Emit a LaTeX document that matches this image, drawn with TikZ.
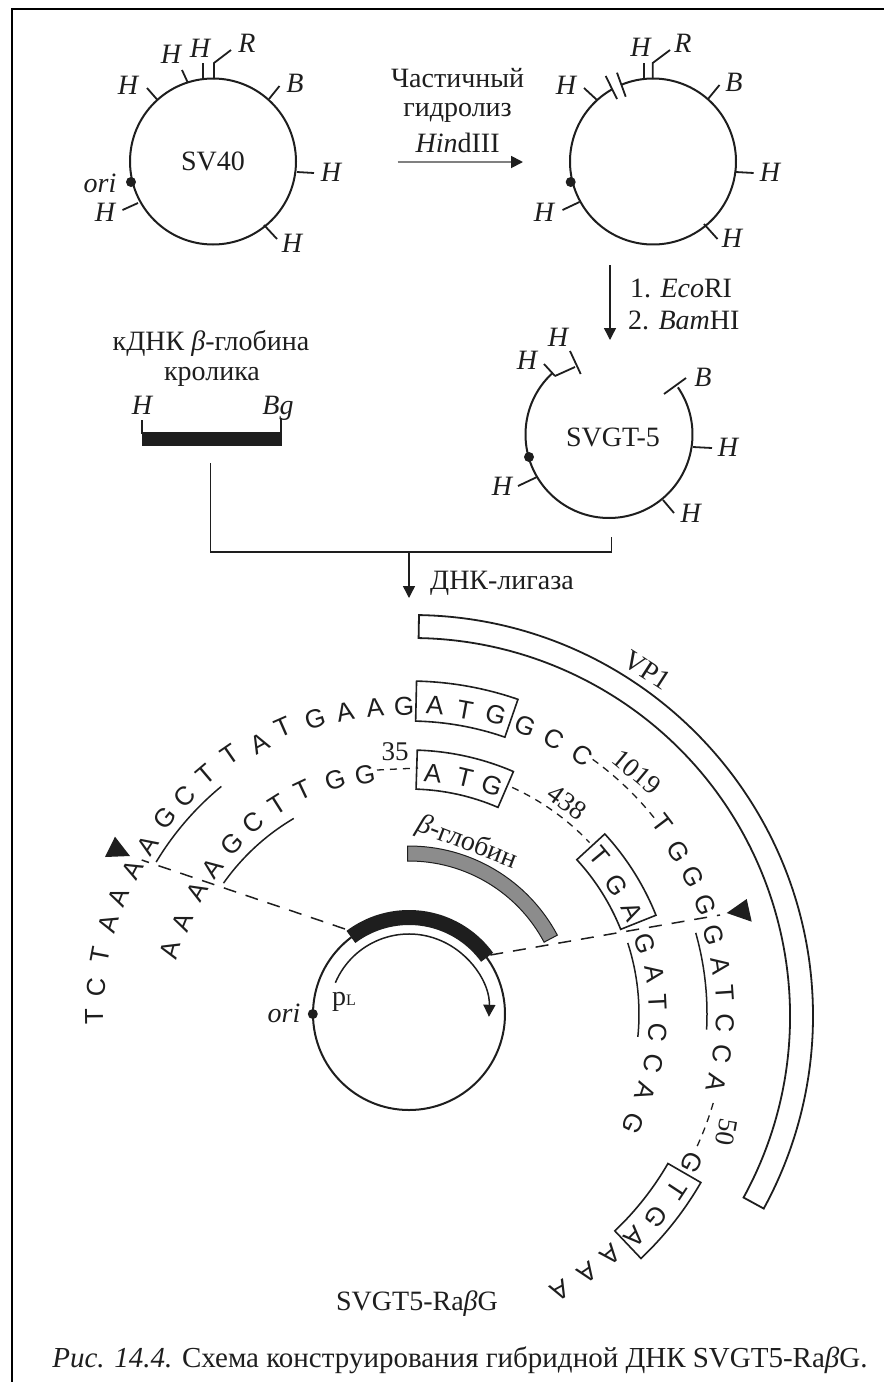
\documentclass[tikz,border=0pt]{standalone}
\usepackage{fontspec}
\setmainfont{Liberation Serif}
\newfontfamily\seqfont{Liberation Sans}
\usetikzlibrary{arrows.meta}
\definecolor{ink}{HTML}{1E1E1E}
\definecolor{globin}{HTML}{8C8C8C}
\tikzset{
  txt/.style={font=\fontsize{28}{30}\selectfont, inner sep=0pt, text=ink},
  ital/.style={font=\fontsize{28}{30}\selectfont\itshape, inner sep=0pt, text=ink},
  num/.style={font=\fontsize{27}{29}\selectfont, inner sep=0pt, text=ink},
  seqletter/.style={font=\fontsize{26}{28}\selectfont\seqfont, inner sep=0pt, text=ink},
  ring/.style={draw=ink, line width=2pt, circle, inner sep=0pt},
  wire/.style={draw=ink, line width=1.8pt},
  thinwire/.style={draw=ink, line width=1.5pt},
  dot/.style={fill=ink, circle, inner sep=0pt, minimum size=10pt},
  flow/.style={draw=ink, line width=1.4pt, -{Triangle[length=12pt,width=12pt]}},
  greyflow/.style={draw=gray, line width=1.8pt, -{Triangle[length=12pt,width=12pt,color=ink,fill=ink]}},
  longdash/.style={draw=ink, line width=1.5pt, dash pattern=on 13pt off 10pt},
  shortdash/.style={draw=ink, line width=1.3pt, dash pattern=on 7pt off 6pt},
  seqbox/.style={draw=ink, line width=1.6pt},
  tri/.style={fill=ink, draw=none}
}
\newcommand{\polarbox}[4]{% r1 r2 a1 a2
  \draw[seqbox] (#3:#1pt) arc[start angle=#3,end angle=#4,radius=#1pt] -- (#4:#2pt) arc[start angle=#4,end angle=#3,radius=#2pt] -- cycle;}
\newcommand{\polararc}[4][thinwire]{% style r a1 a2
  \draw[#1] (#3:#2pt) arc[start angle=#3,end angle=#4,radius=#2pt];}
\begin{document}
\begin{tikzpicture}[x=1pt,y=-1pt]
\useasboundingbox (0,0) rectangle (884,1382);
\fill[white] (0,0) rectangle (884,1382);
% frame
\draw[black, line width=2.6pt] (12,1382) -- (12,9) -- (884,9);

% ---- SV40
\node[ring, minimum size=166pt, font=\fontsize{28}{30}\selectfont, text=ink] (sv40) at (213,161.5) {SV40};
\foreach \a/\b/\c/\d in {157.5/100/147/88, 188/83/182/70, 203/79/203/63, 269/99/279.5/86, 297/172/314/173, 264/225/277/239, 138/203/122.5/210}
  \draw[wire] (\a,\b) -- (\c,\d);
\draw[wire] (214,79) -- (214,63) -- (231,50);
\node[dot] (oriA) at (131,182) {};
\foreach \n/\x/\y/\t in {a1/128/85/H, a2/171/54/H, a3/200/48/H, a4/247/43/R, a5/295/83/B, a6/331/172/H, a7/292/243/H, a8/105/212/H}
  \node[ital] (\n) at (\x,\y) {\t};
\node[ital] (oriAl) at (100,183) {ori};

% ---- hydrolysis arrow
\coordinate (hydS) at (397.5,162);
\coordinate (hydE) at (523,162);
\draw[greyflow] (hydS) -- (hydE);
\node[txt] (t1) at (457.6,78) {Частичный};
\node[txt] (t2) at (457.6,113) {гидролиз};
\node[txt] (t3) at (457.6,143) {{\itshape Hin}dIII};

% ---- second circle
\coordinate (c2) at (653,161.5);
\draw[wire, line width=2pt] ([shift={(119.7:83pt)}]c2) arc[start angle=119.7,end angle=472.5,radius=83pt];
\foreach \a/\b/\c/\d in {597/100/584/88, 605.7/76/617/99, 617/72.7/625.7/96.7, 644/79/644/63, 708/99/719.5/85, 735.6/172/753.7/173, 704/224/717.5/239, 579.5/202/562.5/210}
  \draw[wire] (\a,\b) -- (\c,\d);
\draw[wire] (652.7,79) -- (652.7,63) -- (670,50);
\node[dot] (oriB) at (570.7,182) {};
\foreach \n/\x/\y/\t in {b1/566/85/H, b2/640.5/47/H, b3/683/43/R, b4/734/82/B, b5/770/172/H, b6/732/238/H, b7/544/212/H}
  \node[ital] (\n) at (\x,\y) {\t};

% ---- restriction arrow
\coordinate (resS) at (610,265);
\coordinate (resE) at (610,340);
\draw[flow] (resS) -- (resE);
\node[txt, anchor=west] (r1) at (630,288) {1. {\itshape Eco}RI};
\node[txt, anchor=west] (r2) at (628,320) {2. {\itshape Bam}HI};

% ---- SVGT-5
\coordinate (c3) at (609,434.5);
\draw[wire, line width=2pt] ([shift={(132.7:83.5pt)}]c3) arc[start angle=132.7,end angle=394.4,radius=83.5pt];
\draw[wire] (555,376) -- (575,367);
\foreach \a/\b/\c/\d in {570/351/580.7/374, 555/376/544/364, 664/394/686/378, 693/447/712/448, 663/500/674/513, 537/477/518/486}
  \draw[wire] (\a,\b) -- (\c,\d);
\node[dot] (oriC) at (529,457) {};
\foreach \n/\x/\y/\t in {c1/527/360/H, c2a/558/337/H, c3a/703/377/B, c4/728/447/H, c5/690.7/513/H, c6/502/486/H}
  \node[ital] (\n) at (\x,\y) {\t};
\node[txt] (svgt) at (613,437) {SVGT-5};

% ---- cDNA
\node[txt] (k1) at (211,343) {кДНК {\itshape β}-глобина};
\node[txt] (k2) at (212,377) {кролика};
\node[ital] (k3) at (142,405) {H};
\node[ital] (k4) at (278,408) {Bg};
\draw[wire] (142,420) -- (142,434);
\draw[wire] (281,418) -- (281,434);
\node[fill=ink, minimum width=140pt, minimum height=14pt, inner sep=0pt] (bar) at (212,439) {};

% ---- ligase connector
\coordinate (lA) at (210.7,463);
\coordinate (lB) at (210.7,552);
\coordinate (lC) at (611.7,552);
\coordinate (lD) at (611.7,537);
\coordinate (lM) at (409,552);
\coordinate (lE) at (409,598);
\draw[thinwire] (lA) -- (lB) -- (lC) -- (lD);
\draw[flow] (lM) -- (lE);
\node[txt] (lig) at (502,583) {ДНК-лигаза};

% ---- VP1
\begin{scope}[shift={(412,1016)}]
  \draw[draw=ink, line width=1.8pt] (89:401pt) arc[start angle=89,end angle=-28.7,radius=401pt] -- (-28.7:378pt) arc[start angle=-28.7,end angle=89,radius=378pt] -- cycle;
\end{scope}
\node[txt, rotate=-33] (vp) at (647,670) {VP1};

% ---- plasmid
\begin{scope}[shift={(409,1014)}]
  \draw[draw=ink, line width=2pt] (0,0) circle[radius=96pt];
  \draw[draw=ink, line width=15pt] (127:96.5pt) arc[start angle=127,end angle=36,radius=96.5pt];
  \draw[thinwire, -{Triangle[length=12pt,width=12pt]}] (157:80pt) arc[start angle=157,end angle=-2,radius=80pt];
  \filldraw[fill=globin, draw=ink, line width=1pt] (90.5:168pt) arc[start angle=90.5,end angle=28,radius=168pt] -- (28:153pt) arc[start angle=28,end angle=90.5,radius=153pt] -- cycle;
  % sequence underlines
  \polararc{295}{149}{129.5}
  \polararc{227}{144.8}{120.5}
  \polararc{298}{15.8}{-3}
  \polararc{230}{18}{-5.7}
  % dashed stretches
  \polararc[shortdash]{314}{54.2}{38.7}
  \polararc[shortdash]{249}{65.5}{43.5}
  \polararc[shortdash]{317}{-16.3}{-25}
  % boxes
  \polarbox{333}{293}{88.7}{70.9}
  \polarbox{264}{225}{88.2}{66.7}
  \polarbox{266}{228}{42.6}{21.8}
  \polarbox{337}{299}{-30}{-46.5}
\end{scope}
\node[dot] (oriD) at (312.8,1014) {};
\node[ital] (oriDl) at (284,1013) {ori};
\node[txt] (pl) at (344,1002) {p{\fontsize{16}{16}\selectfont L}};
\node[txt, rotate=-21] (bg) at (467,843) {{\itshape β}-глобин};

% ---- sequence letters
\foreach \x/\y/\t [count=\i] in {
 94/1017/T, 96/987/C, 100/955/T, 108/924/A, 118/897/A, 133/870/A, 148/845/A, 165/818/G, 185/797/C, 206/775/T,
 230/755/T, 260/743/A, 283/727/T, 315/719/G, 345/712/A, 375/708/A, 404/706/G, 435/705/A, 465/710/T, 495.7/715/G,
 525/726/G, 554/739/C, 582/755/C, 662/823/T, 678/852/G, 693/877/G, 705/905/G,
 714/935/G, 721/966/A, 725/993/T, 725/1023/C, 722/1054/C, 716/1083/A,
 692/1163/G, 676.5/1190/T, 656.5/1217/G, 635/1237/A, 611/1255/A, 587/1273/A, 560/1290/A,
 170/950/A, 182/922/A, 197/892/A, 213/868/A, 232/844/G, 253/823/C, 277/805/T, 303/790/T, 335/780/G, 365/775/G,
 433/773/A, 465/778/T, 492/786/G, 599/856/T, 616/885/G, 632/912/A,
 645/944/G, 655/974/A, 658/1002/T, 658/1033/C, 653/1063/C, 645.5/1092/A, 633.4/1123/G}
{
  \pgfmathsetmacro\rot{atan2(1014-\y,\x-409)-90}
  \node[seqletter, rotate=\rot] (s\i) at (\x,\y) {\t};
}

% ---- numbers
\node[num] (n35) at (395,752) {35};
\node[num, rotate=-40] (n1019) at (637,772) {1019};
\node[num, rotate=-36] (n438) at (567,802) {438};
\node[num, rotate=-100] (n50) at (726.5,1132) {50};
\coordinate (d35a) at (377,770);
\coordinate (d35b) at (418,768);
\draw[shortdash] (d35a) -- (d35b);

% ---- long dashed insert lines and triangles
\coordinate (lfA) at (345,929);
\coordinate (lfB) at (141.7,860);
\coordinate (rtA) at (490.3,955);
\coordinate (rtB) at (720,915);
\draw[longdash] (lfA) -- (lfB);
\draw[longdash] (rtA) -- (rtB);
\fill[tri] (115,836.7) -- (105,857) -- (130,856) -- cycle;
\fill[tri] (746.7,899) -- (751.7,921.7) -- (726.7,913) -- cycle;

% ---- titles
\node[txt] (name) at (417,1304) {SVGT5-Ra{\itshape β}G};
\node[txt, font=\fontsize{29}{31}\selectfont] (cap) at (460,1360) {{\itshape Рис. 14.4.} Схема конструирования гибридной ДНК SVGT5-Ra{\itshape β}G.};
\end{tikzpicture}
\end{document}
